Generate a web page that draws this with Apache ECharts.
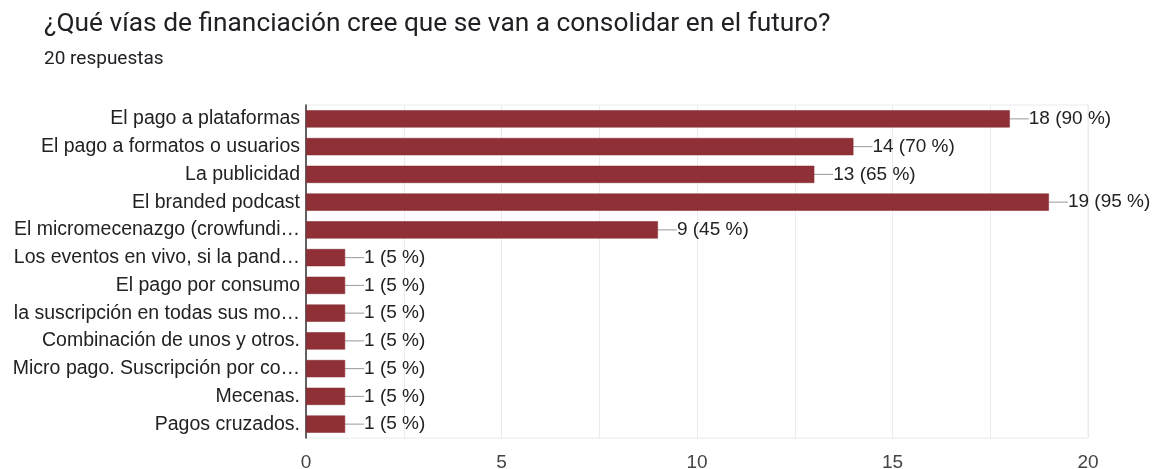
<!DOCTYPE html>
<html>
<head>
<meta charset="utf-8">
<script src="https://cdn.jsdelivr.net/npm/echarts@6/dist/echarts.min.js"></script>
<style>
  html, body { margin: 0; padding: 0; background: #fff; }
  #chart { width: 1155px; height: 469px; }
</style>
</head>
<body>
<div id="chart"></div>
<script>
var categories = [
    'El pago a plataformas',
    'El pago a formatos o usuarios',
    'La publicidad',
    'El branded podcast',
    'El micromecenazgo (crowfundi…',
    'Los eventos en vivo, si la pand…',
    'El pago por consumo',
    'la suscripción en todas sus mo…',
    'Combinación de unos y otros.',
    'Micro pago. Suscripción por co…',
    'Mecenas.',
    'Pagos cruzados.'
];
var counts = [18, 14, 13, 19, 9, 1, 1, 1, 1, 1, 1, 1];
var totalResponses = 20;
var xTicks = [0, 5, 10, 15, 20];

var chart = echarts.init(document.getElementById('chart'));

var option = {
    animation: false,
    title: {
        text: '¿Qué vías de financiación cree que se van a consolidar en el futuro?',
        subtext: totalResponses + ' respuestas',
        left: 39,
        top: 6,
        itemGap: 13,
        textStyle: {
            fontFamily: 'Roboto',
            fontSize: 26.3,
            fontWeight: 'normal',
            color: '#202124'
        },
        subtextStyle: {
            fontFamily: 'Roboto',
            fontSize: 19,
            color: '#202124'
        }
    },
    grid: {
        left: 306,
        right: 67,
        top: 105,
        bottom: 31,
        outerBoundsMode: 'none',
        show: true,
        borderColor: '#ebebeb',
        borderWidth: 1
    },
    xAxis: {
        type: 'value',
        min: 0,
        max: 20,
        interval: 2.5,
        axisLine: { show: false },
        axisTick: { show: false },
        splitLine: { lineStyle: { color: '#ebebeb', width: 1 } },
        axisLabel: {
            margin: 15,
            fontFamily: 'Liberation Sans',
            fontSize: 19,
            color: '#444',
            formatter: function (v) {
                return xTicks.indexOf(v) >= 0 ? String(v) : '';
            }
        }
    },
    yAxis: {
        type: 'category',
        inverse: true,
        data: categories,
        axisTick: { show: false },
        axisLine: { lineStyle: { color: '#333', width: 1.5 } },
        axisLabel: {
            margin: 6,
            fontFamily: 'Liberation Sans',
            fontSize: 19.5,
            color: '#222'
        }
    },
    series: [{
        type: 'bar',
        data: counts,
        barCategoryGap: '38%',
        itemStyle: { color: '#8e3035', borderColor: '#85272c', borderWidth: 0.5 },
        label: {
            show: true,
            position: 'right',
            distance: 0,
            fontFamily: 'Liberation Sans',
            fontSize: 19,
            color: '#222',
            formatter: function (p) {
                return p.value + ' (' + Math.round(p.value / totalResponses * 100) + ' %)';
            }
        },
        labelLayout: { dx: 19 },
        labelLine: {
            show: true,
            lineStyle: { color: '#999', width: 1 }
        }
    }]
};

chart.setOption(option);
</script>
</body>
</html>
